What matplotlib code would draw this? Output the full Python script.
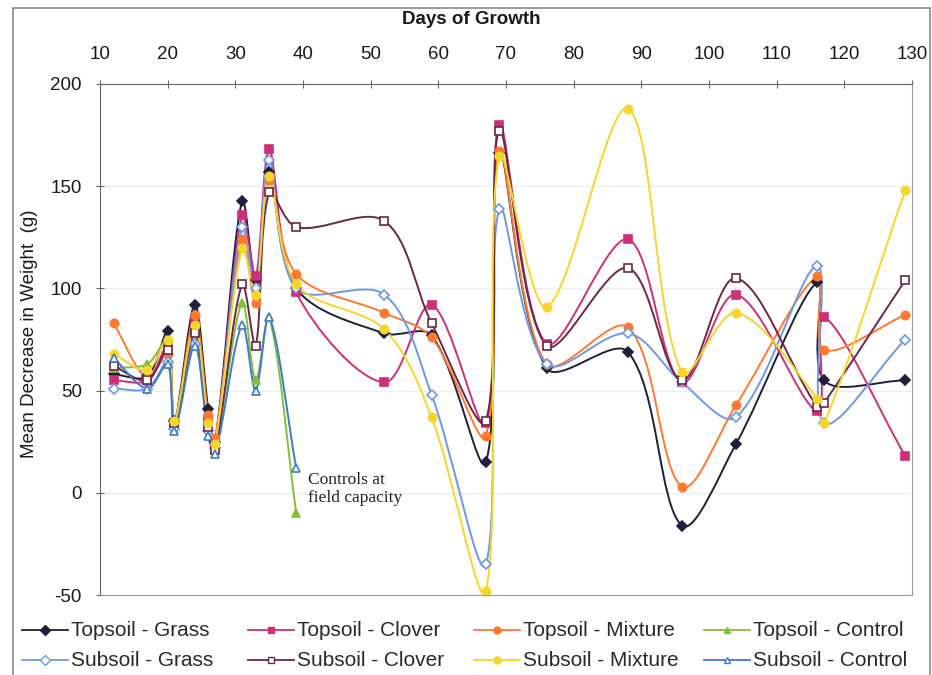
import numpy as np
import matplotlib
matplotlib.use('Agg')
import matplotlib.pyplot as plt
from matplotlib.path import Path
from matplotlib.patches import PathPatch, Rectangle
from matplotlib.lines import Line2D

plt.rcParams['font.family'] = ['Liberation Sans', 'DejaVu Sans']
plt.rcParams['axes.unicode_minus'] = False

# sampling days (days of growth)
days = [12, 17, 20, 21, 24, 26, 27, 31, 33, 35, 39, 52, 59, 67, 69, 76, 88, 96, 104, 116, 117, 129]
control_days = [12, 17, 20, 21, 24, 26, 27, 31, 33, 35, 39]

# mean decrease in weight (g)
topsoil_grass = [58, 57, 79, 35, 92, 41, 25, 143, 104, 157, 100, 78, 77, 15, 166, 61, 69, -16, 24, 103, 55, 55]
topsoil_clover = [55, 55, 72, 33, 84, 36, 23, 136, 106, 168, 98, 54, 92, 34, 180, 73, 124, 54, 97, 40, 86, 18]
topsoil_mixture = [83, 56, 68, 34, 87, 38, 27, 124, 93, 153, 107, 88, 76, 28, 167, 63, 81, 3, 43, 106, 70, 87]
topsoil_control = [61, 63, 75, 35, 80, 33, 22, 93, 55, 86, -10]
subsoil_grass = [51, 51, 64, 31, 73, 30, 22, 130, 100, 163, 100, 97, 48, -35, 139, 63, 78, 54, 37, 111, 34, 75]
subsoil_clover = [62, 55, 70, 34, 78, 32, 21, 102, 72, 147, 130, 133, 83, 35, 177, 72, 110, 55, 105, 42, 44, 104]
subsoil_mixture = [68, 60, 75, 35, 82, 34, 24, 120, 97, 155, 102, 80, 37, -48, 165, 91, 188, 59, 88, 46, 34, 148]
subsoil_control = [66, 51, 63, 30, 72, 28, 19, 82, 50, 86, 12]

series = [
    ('Topsoil - Grass', days, topsoil_grass, '#1e1f3a', 'D', True),
    ('Topsoil - Clover', days, topsoil_clover, '#cf2f78', 's', True),
    ('Topsoil - Mixture', days, topsoil_mixture, '#ff7a30', 'o', True),
    ('Topsoil - Control', control_days, topsoil_control, '#86bf37', '^', True),
    ('Subsoil - Grass', days, subsoil_grass, '#6e98e6', 'D', False),
    ('Subsoil - Clover', days, subsoil_clover, '#6a2846', 's', False),
    ('Subsoil - Mixture', days, subsoil_mixture, '#f6d62a', 'o', True),
    ('Subsoil - Control', control_days, subsoil_control, '#3b7bc8', '^', False),
]


def smooth_path(ax, x, y):
    # smoothed line like the spreadsheet one: bezier through the points,
    # handles sized by the neighbouring segment lengths on screen
    p = ax.transData.transform(np.column_stack([x, y]).astype(float))
    n = len(p)
    d = np.hypot(*np.diff(p, axis=0).T)
    tang = np.empty_like(p)
    tang[1:-1] = p[2:] - p[:-2]
    tang[0] = p[1] - p[0]
    tang[-1] = p[-1] - p[-2]
    verts = [p[0]]
    for i in range(n - 1):
        d_in = d[i - 1] if i > 0 else 0.0
        d_out = d[i + 1] if i + 1 < n - 1 else 0.0
        c1 = p[i] + tang[i] * (d[i] / (d_in + d[i])) / 3
        c2 = p[i + 1] - tang[i + 1] * (d[i] / (d[i] + d_out)) / 3
        verts += [c1, c2, p[i + 1]]
    verts = ax.transData.inverted().transform(np.array(verts))
    codes = [Path.MOVETO] + [Path.CURVE4] * (3 * (n - 1))
    return Path(verts, codes)


fig = plt.figure(figsize=(9.32, 6.75), dpi=100)
fig.patches.append(Rectangle((13 / 932, -0.05), 917 / 932, 1 - 8 / 675 + 0.05,
                             transform=fig.transFigure, fill=False,
                             edgecolor='#8a8a8a', linewidth=1.2))

ax = fig.add_axes([100 / 932, 1 - 595 / 675, 812 / 932, 511 / 675])
ax.set_xlim(10, 130)
ax.set_ylim(-50, 200)
ax.set_xticks(range(10, 131, 10))
ax.set_yticks(range(-50, 201, 50))
ax.xaxis.tick_top()
ax.xaxis.set_label_position('top')
ax.tick_params(axis='both', direction='inout', length=6, width=0.8, color='#666666',
               labelsize=13.5, labelcolor='#1a1a1a')
ax.tick_params(axis='x', pad=12)
ax.tick_params(axis='y', pad=10)
for side in ['left', 'top']:
    ax.spines[side].set_color('#666666')
for side in ['right', 'bottom']:
    ax.spines[side].set_color('#9a9a9a')
ax.yaxis.grid(True, color='#eeeeee', linewidth=1)
ax.set_axisbelow(True)

for label, x, y, color, marker, filled in series:
    ax.add_patch(PathPatch(smooth_path(ax, x, y), fill=False, edgecolor=color, linewidth=1.4))
    mfc = color if filled else 'white'
    ax.plot(x, y, linestyle='none', marker=marker, markersize=6 if marker != 'D' else 5.5,
            markerfacecolor=mfc, markeredgecolor=color, markeredgewidth=1.2)

ax.text(40.8, 10, 'Controls at\nfield capacity', family=['Liberation Serif', 'DejaVu Serif'],
        fontsize=12.5, color='#222222', va='top', ha='left', linespacing=1.15)

fig.text(471 / 932, 1 - 20 / 675, 'Days of Growth', ha='center', va='center',
         fontsize=13.5, fontweight='bold', color='#1a1a1a')
fig.text(30 / 932, 1 - 334 / 675, 'Mean Decrease in Weight  (g)', ha='center', va='center',
         rotation=90, fontsize=13.5, color='#1a1a1a')

# legend: two rows of four, laid out like the original
col_x = [22, 248, 474, 704]
row_y = [630, 660]
for k, (label, x, y, color, marker, filled) in enumerate(series):
    cx = col_x[k % 4]
    cy = 1 - row_y[k // 4] / 675
    mfc = color if filled else 'white'
    fig.add_artist(Line2D([cx / 932, (cx + 46) / 932], [cy, cy], transform=fig.transFigure,
                          color=color, linewidth=1.3))
    fig.add_artist(Line2D([(cx + 23) / 932], [cy], transform=fig.transFigure, color=color,
                          marker=marker, markersize=5, markerfacecolor=mfc,
                          markeredgecolor=color, linestyle='none'))
    fig.text((cx + 49) / 932, cy, label, ha='left', va='center', fontsize=15, color='#2a2a2a')

fig.savefig('out.png', dpi=100)
